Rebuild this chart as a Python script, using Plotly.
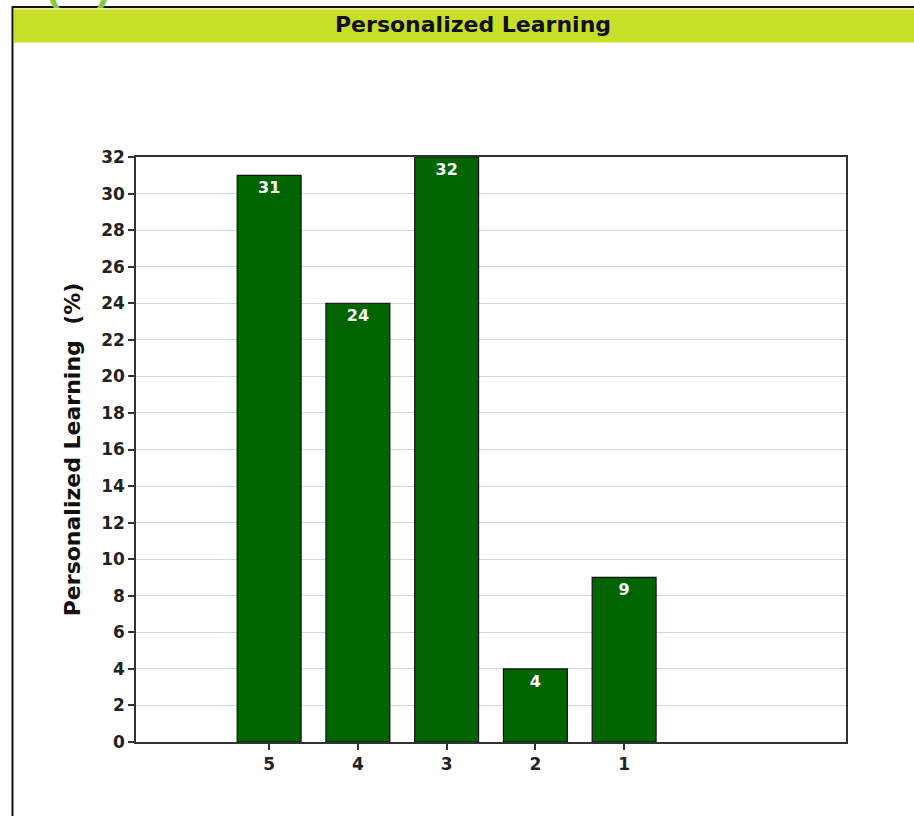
import plotly.graph_objects as go

categories = ["5", "4", "3", "2", "1"]
values = [31, 24, 32, 4, 9]
title_text = "Personalized Learning"
y_title = "Personalized Learning  (%)"
y_ticks = list(range(0, 33, 2))

W, H = 914, 816
L, R, T, B = 136, 846, 157, 742
FONT = "DejaVu Sans"


def px(x):
    return (x - L) / (R - L)


def py(y):
    return (B - y) / (B - T)


fig = go.Figure()
fig.add_trace(go.Bar(
    x=categories, y=values, width=0.72,
    marker=dict(color="#006400", line=dict(color="#111111", width=1.2)),
    text=[str(v) for v in values], textposition="inside", insidetextanchor="end",
    textangle=0,
    textfont=dict(size=16, color="white", family=FONT, weight="bold"),
    cliponaxis=False, hoverinfo="x+y",
))

shapes = [
    # outer frame
    dict(type="rect", xref="paper", yref="paper", x0=px(12.5), x1=px(930), y0=py(830), y1=py(7),
         line=dict(color="#111111", width=2), fillcolor="rgba(0,0,0,0)", layer="below"),
    # header band
    dict(type="rect", xref="paper", yref="paper", x0=px(14), x1=px(930), y0=py(42.5), y1=py(8.5),
         line=dict(width=0), fillcolor="#c8df28", layer="below"),
    dict(type="line", xref="paper", yref="paper", x0=px(14), x1=px(930), y0=py(9.5), y1=py(9.5),
         line=dict(color="#dcec80", width=1), layer="below"),
]

annotations = [
    dict(text=title_text, xref="paper", yref="paper", x=px(473), y=py(25),
         xanchor="center", yanchor="middle", showarrow=False,
         font=dict(size=22, color="#111111", family=FONT, weight="bold")),
    dict(text="S (%)", xref="paper", yref="paper", x=px(4), y=py(10),
         xanchor="left", yanchor="bottom", showarrow=False,
         font=dict(size=42, color="#8cc63f", family="Liberation Sans", weight="bold")),
]

fig.update_layout(
    width=W, height=H,
    margin=dict(l=L, r=W - R, t=T, b=H - B, pad=0),
    paper_bgcolor="white", plot_bgcolor="white",
    showlegend=False,
    shapes=shapes,
    annotations=annotations,
    uniformtext=dict(minsize=16, mode="show"),
    xaxis=dict(
        type="category", range=[-1.5, 6.5],
        showline=True, linecolor="#333333", linewidth=1.5, mirror=True,
        ticks="outside", ticklen=6, tickcolor="#333333", tickwidth=1.5,
        showgrid=False,
        tickfont=dict(size=17, color="#222222", family=FONT, weight="bold"),
    ),
    yaxis=dict(
        range=[0, 32], tickvals=y_ticks,
        showline=True, linecolor="#333333", linewidth=1.5, mirror=True,
        ticks="outside", ticklen=6, tickcolor="#333333", tickwidth=1.5,
        showgrid=True, gridcolor="#d6d6d6", gridwidth=1.2, zeroline=False,
        tickfont=dict(size=17, color="#222222", family=FONT, weight="bold"),
        title=dict(text=y_title, standoff=14,
                   font=dict(size=22, color="#111111", family=FONT, weight="bold")),
    ),
)

fig.write_html(
    "out.html",
    config={"displayModeBar": False},
    post_script="document.body.style.margin='0px';document.body.style.overflow='hidden';",
)
